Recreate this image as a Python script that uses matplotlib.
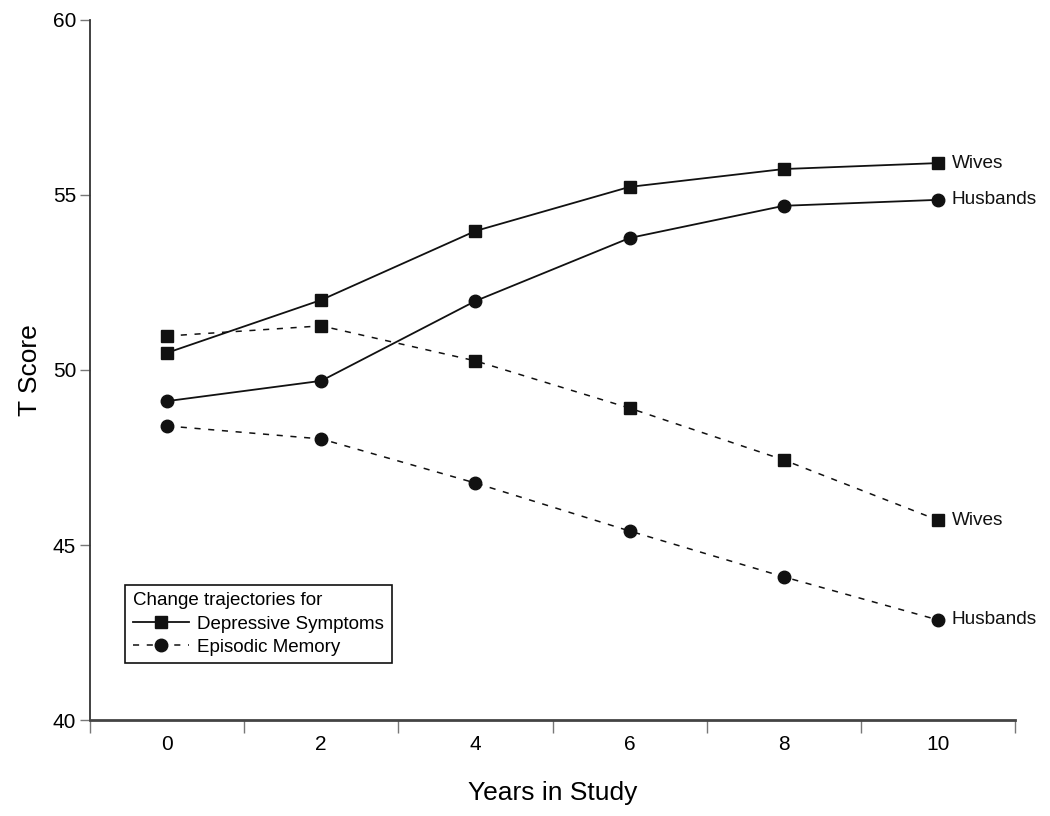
import matplotlib
matplotlib.use("Agg")
import matplotlib.pyplot as plt
from matplotlib.lines import Line2D

plt.rcParams["font.family"] = ["Liberation Sans", "DejaVu Sans"]

# ── data ──────────────────────────────────────────────
years = [0, 2, 4, 6, 8, 10]
dep_wives    = [50.49, 52.00, 53.97, 55.23, 55.74, 55.91]
dep_husbands = [49.11, 49.69, 51.97, 53.77, 54.69, 54.86]
mem_wives    = [50.97, 51.26, 50.26, 48.91, 47.43, 45.71]
mem_husbands = [48.40, 48.03, 46.77, 45.40, 44.09, 42.86]
group_labels = ["Wives", "Husbands", "Wives", "Husbands"]

fig = plt.figure(figsize=(10.5, 8.16), dpi=100)
ax = fig.add_axes([0.0857, 0.1176, 0.881, 0.858])

C = "#111111"
MS = 9
dash = (4, 5)

ax.plot(years, dep_wives, color=C, lw=1.3, marker="s", ms=MS)
ax.plot(years, dep_husbands, color=C, lw=1.3, marker="o", ms=MS)
ax.plot(years, mem_wives, color=C, lw=1.1, ls=(0, dash), marker="s", ms=MS)
ax.plot(years, mem_husbands, color=C, lw=1.1, ls=(0, dash), marker="o", ms=MS)

ends = [dep_wives[-1], dep_husbands[-1], mem_wives[-1], mem_husbands[-1]]
for lbl, yv in zip(group_labels, ends):
    ax.annotate(lbl, xy=(years[-1], yv), xytext=(10, 0), textcoords="offset points",
                ha="left", va="center", fontsize=13.7, color=C)

ax.set_xlim(-1, 11)
ax.set_ylim(40, 60)
ax.set_yticks([40, 45, 50, 55, 60])
ax.set_xticks([-1, 1, 3, 5, 7, 9, 11])
ax.set_xticklabels([])
ax.set_xticks(years, minor=True)
ax.set_xticklabels([str(y) for y in years], minor=True)
ax.tick_params(axis="x", which="major", length=9, width=1, color="#777777", direction="out")
ax.tick_params(axis="x", which="minor", length=0, pad=11, labelsize=15)
ax.tick_params(axis="y", length=7, width=1, color="#777777", labelsize=15, pad=3)

for s in ["top", "right"]:
    ax.spines[s].set_visible(False)
ax.spines["left"].set_color("#333333")
ax.spines["bottom"].set_color("#444444")
ax.spines["left"].set_linewidth(1.3)
ax.spines["bottom"].set_linewidth(2)

ax.set_xlabel("Years in Study", fontsize=19, labelpad=19)
ax.set_ylabel("T Score", fontsize=19, labelpad=8)

handles = [
    Line2D([], [], color=C, lw=1.3, marker="s", ms=MS),
    Line2D([], [], color=C, lw=1.1, ls=(0, dash), marker="o", ms=MS),
]
leg = ax.legend(handles, ["Depressive Symptoms", "Episodic Memory"],
                title="Change trajectories for", loc="lower left",
                bbox_to_anchor=(0.038, 0.081), borderaxespad=0,
                fontsize=13.5, title_fontsize=13.5, fancybox=False,
                edgecolor="#111111", framealpha=1, handlelength=3.0,
                handletextpad=0.45, borderpad=0.4, labelspacing=0.33,
                alignment="left")
leg.get_frame().set_linewidth(1.2)

fig.savefig("out.png", dpi=100, facecolor="white")
